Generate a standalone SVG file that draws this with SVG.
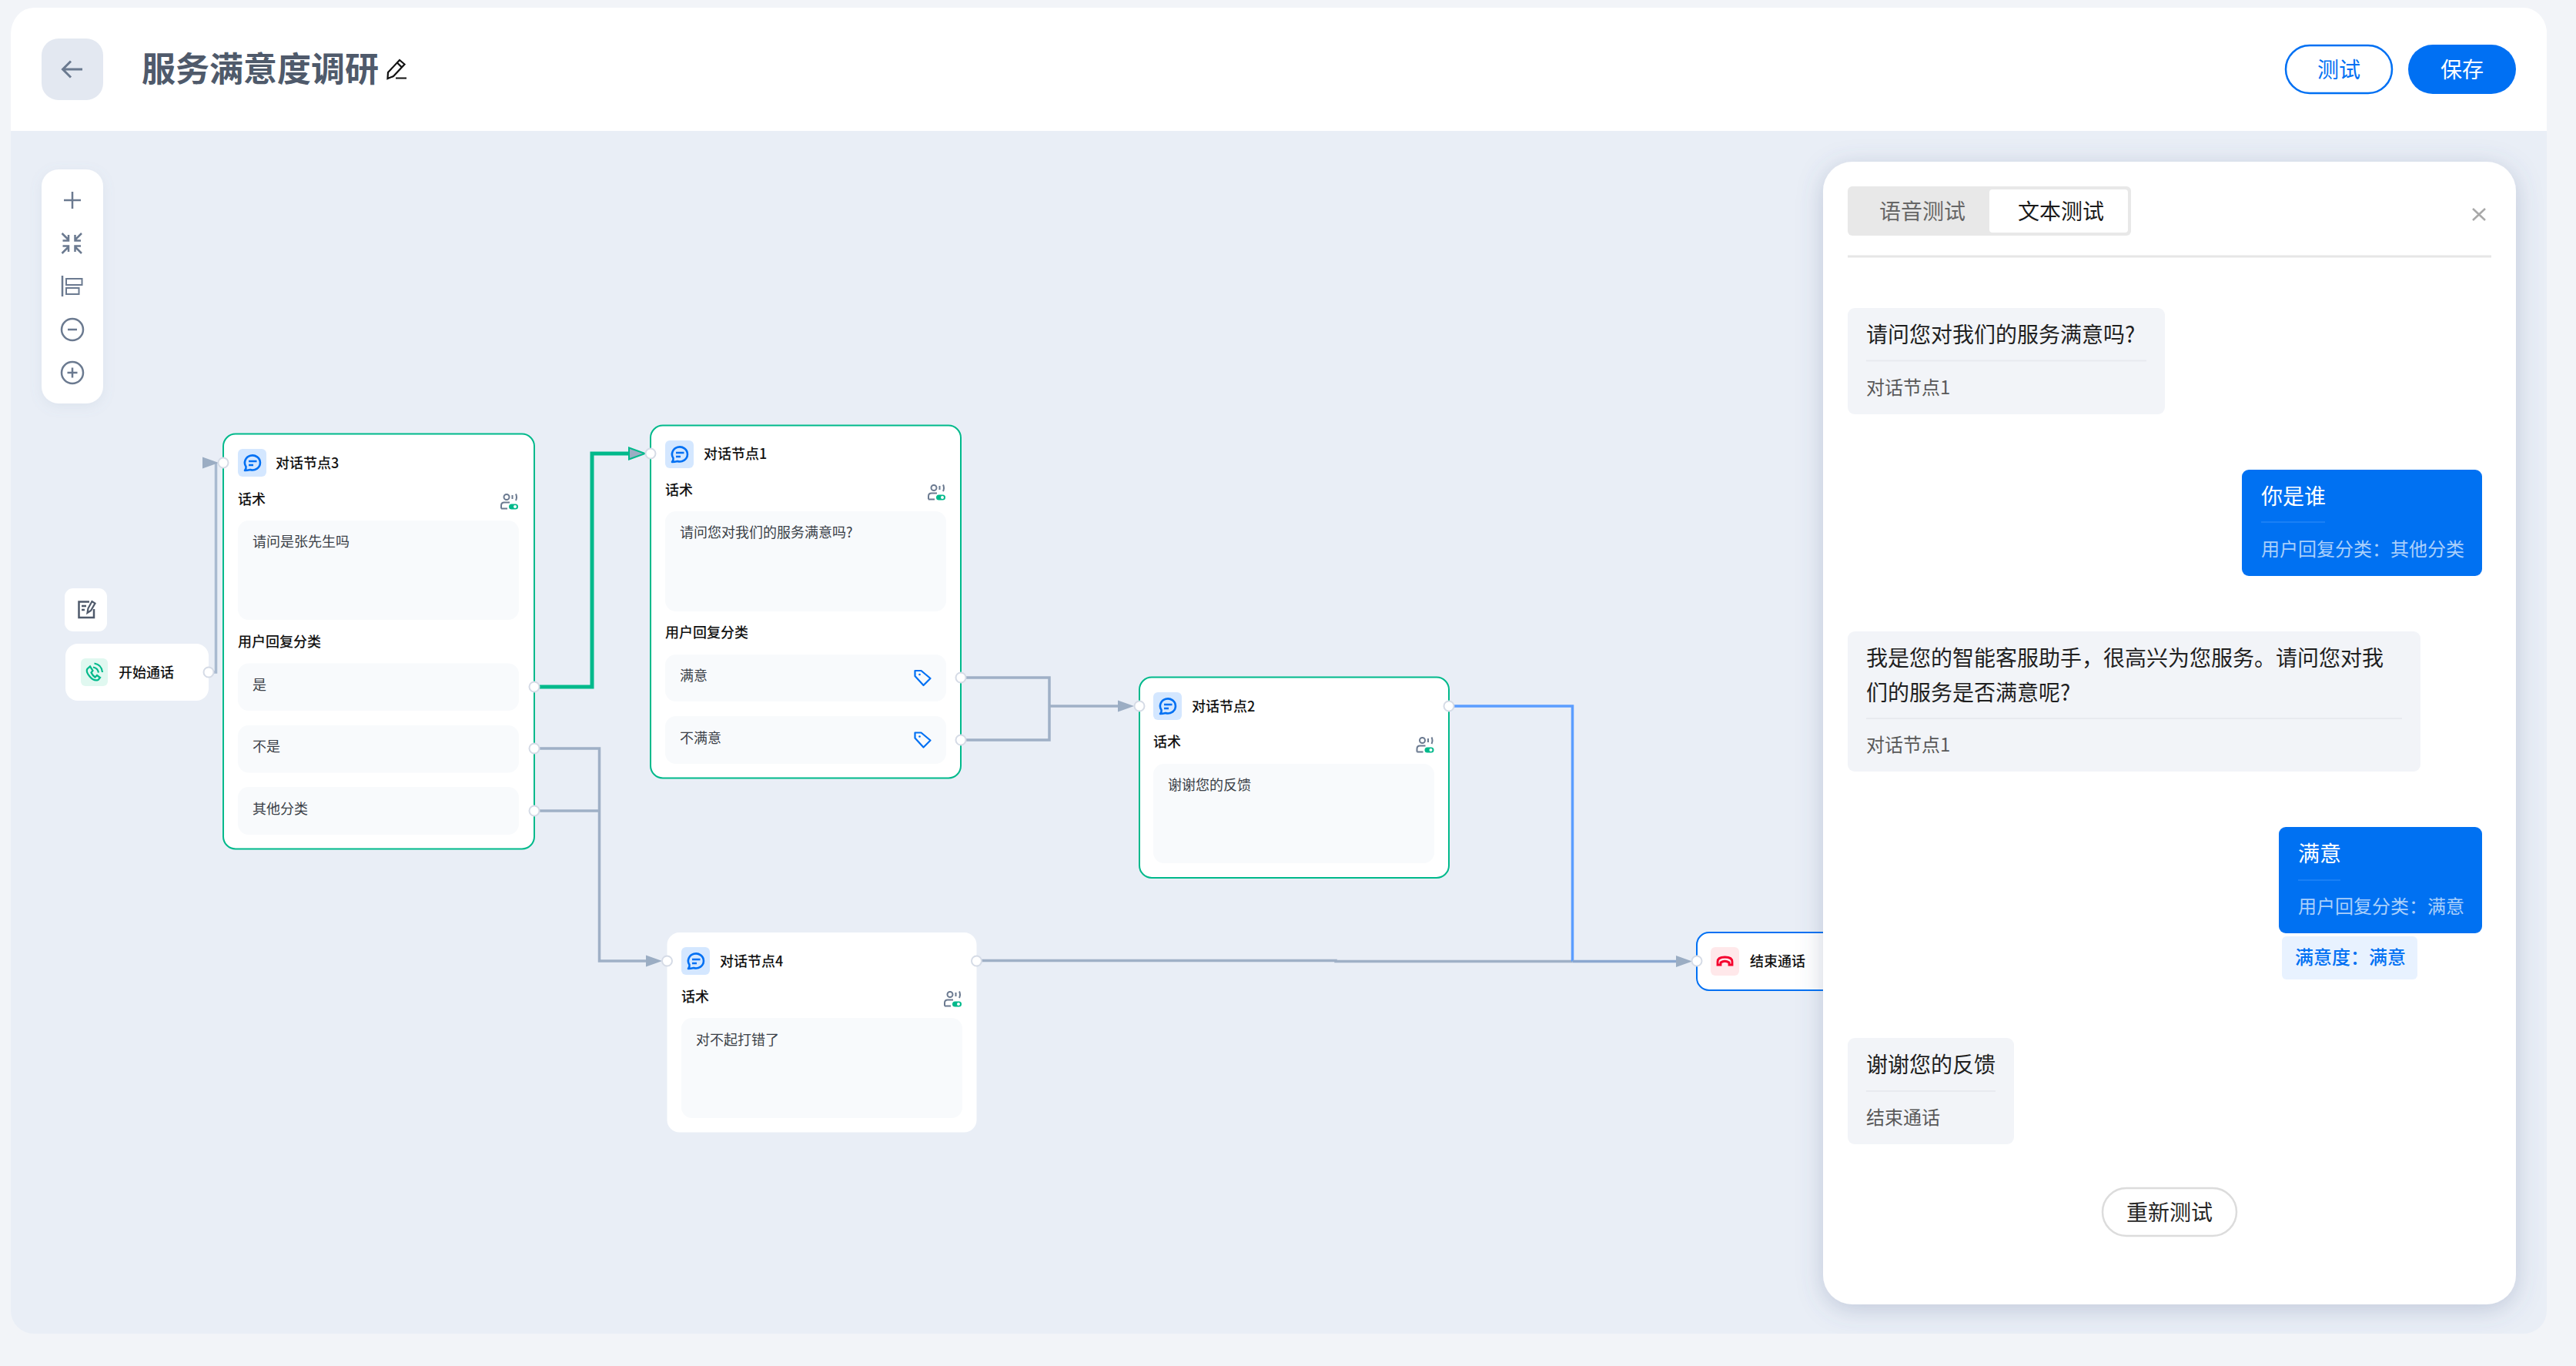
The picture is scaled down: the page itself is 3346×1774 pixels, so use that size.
<svg xmlns="http://www.w3.org/2000/svg" width="3346" height="1774" viewBox="0 0 3346 1774">
<style>
text{font-family:"Noto Sans CJK SC","Noto Sans",sans-serif}
.t18{font-size:18px;fill:#3a3f47}
.h18{font-size:18px;font-weight:500;fill:#111}
.card{fill:#fff;stroke:#00b98b;stroke-width:2}
.plain{fill:#fff}
.box{fill:#f8fafc}
.ib{fill:#d4e7ff}
.port{fill:#fff;stroke:#d5dbe6;stroke-width:2}
.conn{fill:none;stroke:#9fb0c6;stroke-width:3.500}
.ico{fill:none;stroke:#6b7a90;stroke-width:2.500}
.t28{font-size:28px;fill:#1f1f1f}
.s24{font-size:24px;fill:#595959}
.u24{font-size:24px;fill:#a9cffb}
.bub{fill:#f2f4f8}
.ubub{fill:#0071f2}
.dv{fill:#e8eaef}
</style>
<defs>
<marker id="arrow" markerUnits="userSpaceOnUse" markerWidth="22" markerHeight="18" refX="10" refY="9" orient="auto"><polygon points="0,1.500 21,9 0,16.500" fill="#9badc3"/></marker>
<marker id="arrowR" markerUnits="userSpaceOnUse" markerWidth="22" markerHeight="18" refX="17.500" refY="9" orient="0"><polygon points="0,1.500 21,9 0,16.500" fill="#9badc3"/></marker>
<marker id="arrowG" markerUnits="userSpaceOnUse" markerWidth="24" markerHeight="20" refX="11" refY="10" orient="auto"><polygon points="1,2.500 22,10 1,17.500" fill="#9badc3" stroke="#00b98b" stroke-width="2"/></marker>
<g id="chat">
<path d="M-8.500 5A10 9.500 0 1 1-3 9Q-7 10-10 10Q-8 8-8.500 5Z" fill="none" stroke="#0070f3" stroke-width="2.600" stroke-linejoin="round"/>
<path d="M-5-2H5.500M-5 3H1" fill="none" stroke="#0070f3" stroke-width="2.400"/>
</g>
<g id="voice">
<circle cx="8" cy="4.500" r="3.500" fill="none" stroke="#6b7a90" stroke-width="2"/>
<path d="M1 19.500V15.500Q1 11.500 5 11.500H12M1 19.500H9M15.500 2V7M20 0.500Q22 4.500 20 9" fill="none" stroke="#6b7a90" stroke-width="2"/>
<rect x="11" y="13.500" width="12" height="7" rx="3.500" fill="#00b98b"/>
<circle cx="19" cy="17" r="2" fill="#fff"/>
</g>
<g id="tag">
<path d="M1 1L9 1L21 11L12 20L1 8Z" fill="none" stroke="#0070f3" stroke-width="2.200" stroke-linejoin="round"/>
<circle cx="7" cy="6" r="1.300" fill="#0070f3"/>
</g>
<filter id="sh" x="-15%" y="-15%" width="130%" height="130%"><feDropShadow dx="0" dy="6" stdDeviation="16" flood-color="#50648c" flood-opacity="0.28"/></filter>
<filter id="sh2" x="-40%" y="-20%" width="180%" height="140%"><feDropShadow dx="0" dy="4" stdDeviation="8" flood-color="#7a8fb0" flood-opacity="0.12"/></filter>
<clipPath id="cv"><rect x="14" y="170" width="3294" height="1562"/></clipPath>
</defs>

<rect width="3346" height="1774" fill="#f2f4f8"/>
<rect id="canvas" x="14" y="120" width="3294" height="1612" rx="30" fill="#e9eef6"/>

<g id="header">
<path d="M14 170V44A30 34 0 0 1 44 10H3278A30 34 0 0 1 3308 40V170Z" fill="#fff"/>
<rect x="54" y="50" width="80" height="80" rx="22" fill="#e3e8f1"/>
<path d="M107 90H82M92 79.500L81.500 90L92 100.500" fill="none" stroke="#6b7a90" stroke-width="3"/>
<text x="184" y="106" font-size="44" font-weight="700" fill="#4f5a6b">服务满意度调研</text>
<path d="M504 94L519 78L525.500 83.500L511 99L503.500 102ZM516 81.500L522 87.500M514 101.500H528" fill="none" stroke="#111" stroke-width="2.200"/>
<rect x="2969" y="59" width="138" height="62" rx="31" fill="#fff" stroke="#0070f3" stroke-width="2.500"/>
<text x="3038" y="101" font-size="28" fill="#0070f3" text-anchor="middle">测试</text>
<rect x="3128" y="58" width="140" height="64" rx="32" fill="#0070f3"/>
<text x="3198" y="101" font-size="28" fill="#fff" text-anchor="middle">保存</text>
</g>

<g id="toolbar">
<rect x="54" y="220" width="80" height="304" rx="22" fill="#fff" filter="url(#sh2)"/>
<path d="M83 260H105M94 249V271" class="ico"/>
<path d="M80.500 303L89 311.500M89 305V312.500H81.500M106 303L97.500 311.500M97.500 305V312.500H105M80.500 329L89 320.500M89 327V319.500H81.500M106 329L97.500 320.500M97.500 327V319.500H105" class="ico"/>
<path d="M81 358V385" class="ico"/>
<rect x="86" y="362" width="20.500" height="8" class="ico" style="stroke-width:2"/>
<rect x="86" y="374" width="16.500" height="8" class="ico" style="stroke-width:2"/>
<circle cx="94" cy="428" r="14" class="ico"/><path d="M88 428H100" class="ico"/>
<circle cx="94" cy="484" r="14" class="ico"/><path d="M87.500 484H100.500M94 477.500V490.500" class="ico"/>
</g>

<g id="connectors">
<path class="conn" d="M271 873H280.500V601" marker-end="url(#arrowR)" style="stroke:#a9bad0"/>
<path class="conn" d="M694 892H769V589H827" style="stroke:#00b98b;stroke-width:5" marker-end="url(#arrowG)"/>
<path class="conn" d="M694 972H778.500V1248H849" marker-end="url(#arrow)"/>
<path class="conn" d="M694 1053H778.500"/>
<path class="conn" d="M1248 880H1363V961H1248"/>
<path class="conn" d="M1363 917H1462" marker-end="url(#arrow)"/>
<path class="conn" d="M1269 1247.500H1735V1248.500H2042.500"/>
<path class="conn" d="M1882 917H2042.500V1248.500" style="stroke:#5b9dff"/>
<path class="conn" d="M2042.500 1248.500H2187" style="stroke:#8ba7cf" marker-end="url(#arrow)"/>
</g>

<g id="note-button">
<rect x="84" y="764" width="55" height="56" rx="11" fill="#fff"/>
<path d="M116 781.500H102.500V802H122V791M106 787H112M106 792H110" fill="none" stroke="#4f5a6b" stroke-width="2.500"/>
<path d="M113.500 796L114.500 790L119.500 781L123.500 783.500L118 793Z" fill="none" stroke="#4f5a6b" stroke-width="2.200"/>
</g>

<g id="start-node">
<rect x="85" y="836" width="186" height="74" rx="16" fill="#fff"/>
<rect x="105" y="855" width="35" height="36" rx="6" fill="#e0f8f0"/>
<path d="M113.500 868.500L117 865.500L120.500 871L118.500 873.500Q120 877 123.500 879.500L126 877L130 880L127.500 883Q122 885 116.500 878.500Q111 872 113.500 868.500ZM121 866.500Q127 867.500 128 873.500M122.500 861.500Q132 863 133 873" fill="none" stroke="#00b98b" stroke-width="2.200"/>
<text x="154" y="879.500" class="h18">开始通话</text>
<circle cx="271" cy="873" r="6.500" class="port"/>
</g>

<g id="node-3">
<rect x="290" y="563.500" width="404" height="539" rx="16" class="card"/>
<rect x="309" y="583" width="37" height="36" rx="6" class="ib"/>
<use href="#chat" x="328" y="601"/>
<text x="358" y="607.500" class="h18">对话节点3</text>
<text x="309" y="654.500" class="h18">话术</text>
<use href="#voice" x="650" y="641"/>
<rect x="309" y="676" width="365" height="129" rx="14" class="box"/>
<text x="328" y="710" class="t18">请问是张先生吗</text>
<text x="309" y="840" class="h18">用户回复分类</text>
<rect x="309" y="861.500" width="365" height="61.500" rx="14" class="box"/>
<text x="328" y="896" class="t18">是</text>
<rect x="309" y="942" width="365" height="61.500" rx="14" class="box"/>
<text x="328" y="976" class="t18">不是</text>
<rect x="309" y="1022" width="365" height="62" rx="14" class="box"/>
<text x="328" y="1057" class="t18">其他分类</text>
<circle cx="290" cy="601" r="6.500" class="port"/>
<circle cx="694" cy="892" r="6.500" class="port"/>
<circle cx="694" cy="972" r="6.500" class="port"/>
<circle cx="694" cy="1053" r="6.500" class="port"/>
</g>

<g id="node-1">
<rect x="845" y="552.500" width="403" height="458" rx="16" class="card"/>
<rect x="864" y="572" width="37" height="36" rx="6" class="ib"/>
<use href="#chat" x="883" y="590"/>
<text x="914" y="595.500" class="h18">对话节点1</text>
<text x="864" y="643" class="h18">话术</text>
<use href="#voice" x="1205" y="629"/>
<rect x="864" y="664" width="365" height="130" rx="14" class="box"/>
<text x="883" y="698" class="t18">请问您对我们的服务满意吗?</text>
<text x="864" y="828" class="h18">用户回复分类</text>
<rect x="864" y="850" width="365" height="61" rx="14" class="box"/>
<text x="883" y="884" class="t18">满意</text>
<use href="#tag" x="1187.500" y="870"/>
<rect x="864" y="930" width="365" height="62" rx="14" class="box"/>
<text x="883" y="964.500" class="t18">不满意</text>
<use href="#tag" x="1187.500" y="950.500"/>
<circle cx="845" cy="589" r="6.500" class="port"/>
<circle cx="1248" cy="880" r="6.500" class="port"/>
<circle cx="1248" cy="961" r="6.500" class="port"/>
</g>

<g id="node-2">
<rect x="1480" y="879.500" width="402" height="260.500" rx="16" class="card"/>
<rect x="1498" y="899" width="37" height="36" rx="6" class="ib"/>
<use href="#chat" x="1517" y="917"/>
<text x="1548" y="923.500" class="h18">对话节点2</text>
<text x="1498" y="969.500" class="h18">话术</text>
<use href="#voice" x="1839.500" y="957"/>
<rect x="1498" y="992" width="365" height="129" rx="14" class="box"/>
<text x="1517" y="1025.500" class="t18">谢谢您的反馈</text>
<circle cx="1480" cy="917" r="6.500" class="port"/>
<circle cx="1882" cy="917" r="6.500" class="port"/>
</g>

<g id="node-4">
<rect x="866.500" y="1211" width="402" height="259.500" rx="16" class="plain"/>
<rect x="885" y="1230" width="37" height="36" rx="6" class="ib"/>
<use href="#chat" x="904" y="1248"/>
<text x="935" y="1254.500" class="h18">对话节点4</text>
<text x="885" y="1300.500" class="h18">话术</text>
<use href="#voice" x="1226" y="1287"/>
<rect x="885" y="1322" width="365" height="130" rx="14" class="box"/>
<text x="904" y="1356.500" class="t18">对不起打错了</text>
<circle cx="866.500" cy="1248" r="6.500" class="port"/>
<circle cx="1268.500" cy="1248" r="6.500" class="port"/>
</g>

<g id="end-node">
<rect x="2204" y="1211" width="220" height="75" rx="16" fill="#fff" stroke="#0070f3" stroke-width="2"/>
<rect x="2222" y="1230" width="37" height="37" rx="6" fill="#ffe8ea"/>
<path d="M2231 1253V1249Q2231 1243 2240.500 1243Q2250 1243 2250 1249V1253H2246V1250Q2240.500 1246.500 2235 1250V1253Z" fill="none" stroke="#f5002d" stroke-width="2.800"/>
<text x="2273" y="1254.500" class="h18">结束通话</text>
<circle cx="2204" cy="1248" r="6.500" class="port"/>
</g>

<g id="test-panel">
<g clip-path="url(#cv)"><rect x="2368" y="210" width="900" height="1484" rx="38" fill="#fff" filter="url(#sh)"/></g>
<rect x="2400" y="242" width="368" height="64" rx="6" fill="#e8e8e8"/>
<rect x="2584" y="246" width="180" height="56" rx="4" fill="#fff"/>
<text x="2441" y="285" font-size="28" fill="#666">语音测试</text>
<text x="2621" y="285" font-size="28" fill="#1a1a1a">文本测试</text>
<path d="M3212 271L3228 286M3228 271L3212 286" fill="none" stroke="#a8a8a8" stroke-width="2.500"/>
<rect x="2400" y="331.500" width="836" height="3" fill="#e6e6e6"/>

<g id="msg-1">
<rect x="2400" y="400" width="412" height="138" rx="9" class="bub"/>
<text x="2424" y="445" class="t28">请问您对我们的服务满意吗?</text>
<rect x="2424" y="467.500" width="364" height="2" class="dv"/>
<text x="2424" y="512" class="s24">对话节点1</text>
</g>
<g id="msg-2">
<rect x="2912" y="610" width="312" height="138" rx="9" class="ubub"/>
<text x="2937" y="655" class="t28" style="fill:#fff">你是谁</text>
<rect x="2937" y="677" width="83" height="2" fill="#1a80f5"/>
<text x="2937" y="721.500" class="u24">用户回复分类：其他分类</text>
</g>
<g id="msg-3">
<rect x="2400" y="820" width="744" height="182" rx="9" class="bub"/>
<text x="2424" y="865" class="t28">我是您的智能客服助手，很高兴为您服务。请问您对我</text>
<text x="2424" y="910" class="t28">们的服务是否满意呢?</text>
<rect x="2424" y="932" width="696" height="2" class="dv"/>
<text x="2424" y="976" class="s24">对话节点1</text>
</g>
<g id="msg-4">
<rect x="2960" y="1074" width="264" height="138" rx="9" class="ubub"/>
<text x="2985" y="1119" class="t28" style="fill:#fff">满意</text>
<rect x="2985" y="1142" width="55" height="2" fill="#1a80f5"/>
<text x="2985" y="1186" class="u24">用户回复分类：满意</text>
<rect x="2964" y="1216" width="176" height="56" rx="6" fill="#e8f2ff"/>
<text x="2981" y="1252" font-size="24" font-weight="500" fill="#0070f3">满意度：满意</text>
</g>
<g id="msg-5">
<rect x="2400" y="1348" width="216" height="138" rx="9" class="bub"/>
<text x="2424" y="1393" class="t28">谢谢您的反馈</text>
<rect x="2424" y="1416" width="168" height="2" class="dv"/>
<text x="2424" y="1460" class="s24">结束通话</text>
</g>
<rect x="2731" y="1543" width="174" height="62" rx="31" fill="#fff" stroke="#dcdcdc" stroke-width="2.500"/>
<text x="2818" y="1585" font-size="28" fill="#262626" text-anchor="middle">重新测试</text>
</g>
</svg>
